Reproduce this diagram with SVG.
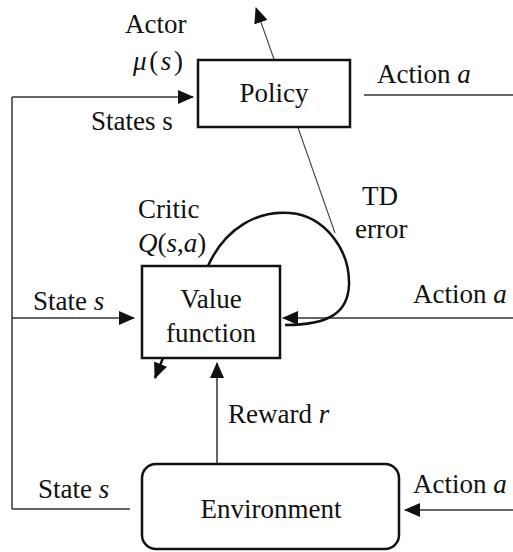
<svg xmlns="http://www.w3.org/2000/svg" width="513" height="552" viewBox="0 0 513 552">
<style>
text{font-family:'Liberation Serif','Times New Roman',serif;font-size:27px;fill:#111}
.i{font-style:italic}
.box{fill:#fff;stroke:#111;stroke-width:2.5}
.c{fill:none;stroke:#333;stroke-width:1.5}
.thin{fill:none;stroke:#444;stroke-width:1.1}
.loop{fill:none;stroke:#111;stroke-width:2.5}
.m{text-anchor:middle}
</style>
<defs>
<marker id="ah" markerUnits="userSpaceOnUse" markerWidth="16" markerHeight="14" refX="15" refY="7" orient="auto">
<path d="M0,0 L16,7 L0,14 Z" fill="#111"/>
</marker>
</defs>
<g id="connectors">
<line class="thin" x1="335" y1="233" x2="256" y2="8" marker-end="url(#ah)"/>
<line class="c" x1="364" y1="95" x2="513" y2="95"/>
<line class="c" x1="12" y1="509" x2="130" y2="509"/>
<line class="c" x1="12" y1="97" x2="12" y2="509"/>
<line class="c" x1="12" y1="97" x2="193" y2="97" marker-end="url(#ah)"/>
<line class="c" x1="12" y1="318" x2="134" y2="318" marker-end="url(#ah)"/>
<line class="c" x1="513" y1="318" x2="283" y2="318" marker-end="url(#ah)"/>
<line class="c" x1="513" y1="510" x2="405" y2="510" marker-end="url(#ah)"/>
<line class="c" x1="217" y1="464" x2="217" y2="363" marker-end="url(#ah)"/>
<line class="loop" x1="163" y1="358" x2="155" y2="378" marker-end="url(#ah)"/>
<path class="loop" d="M208,266 C225,228 258,210 290,213 C325,216 350,250 349,285 C348,312 330,325 285,325"/>
</g>
<g id="policy">
<rect class="box" x="198" y="60" width="152" height="67"/>
<text class="m" x="274" y="102">Policy</text>
</g>
<g id="value">
<rect class="box" x="142" y="266" width="138" height="92"/>
<text class="m" x="211" y="308">Value</text>
<text class="m" x="211" y="342">function</text>
</g>
<g id="environment">
<rect class="box" x="142" y="464" width="257" height="85" rx="14"/>
<text class="m" x="271" y="518">Environment</text>
</g>
<g id="labels">
<text x="125" y="33">Actor</text>
<text x="133" y="70" textLength="50"><tspan class="i">μ</tspan>(<tspan class="i">s</tspan>)</text>
<text x="377" y="83">Action <tspan class="i">a</tspan></text>
<text x="91" y="130">States s</text>
<text x="138" y="218">Critic</text>
<text x="138" y="252"><tspan class="i">Q</tspan>(<tspan class="i">s</tspan>,<tspan class="i">a</tspan>)</text>
<text x="362" y="205">TD</text>
<text x="355" y="238">error</text>
<text x="33" y="310">State <tspan class="i">s</tspan></text>
<text x="413" y="303">Action <tspan class="i">a</tspan></text>
<text x="228" y="423">Reward <tspan class="i">r</tspan></text>
<text x="38" y="498">State <tspan class="i">s</tspan></text>
<text x="413" y="493">Action <tspan class="i">a</tspan></text>
</g>
</svg>
